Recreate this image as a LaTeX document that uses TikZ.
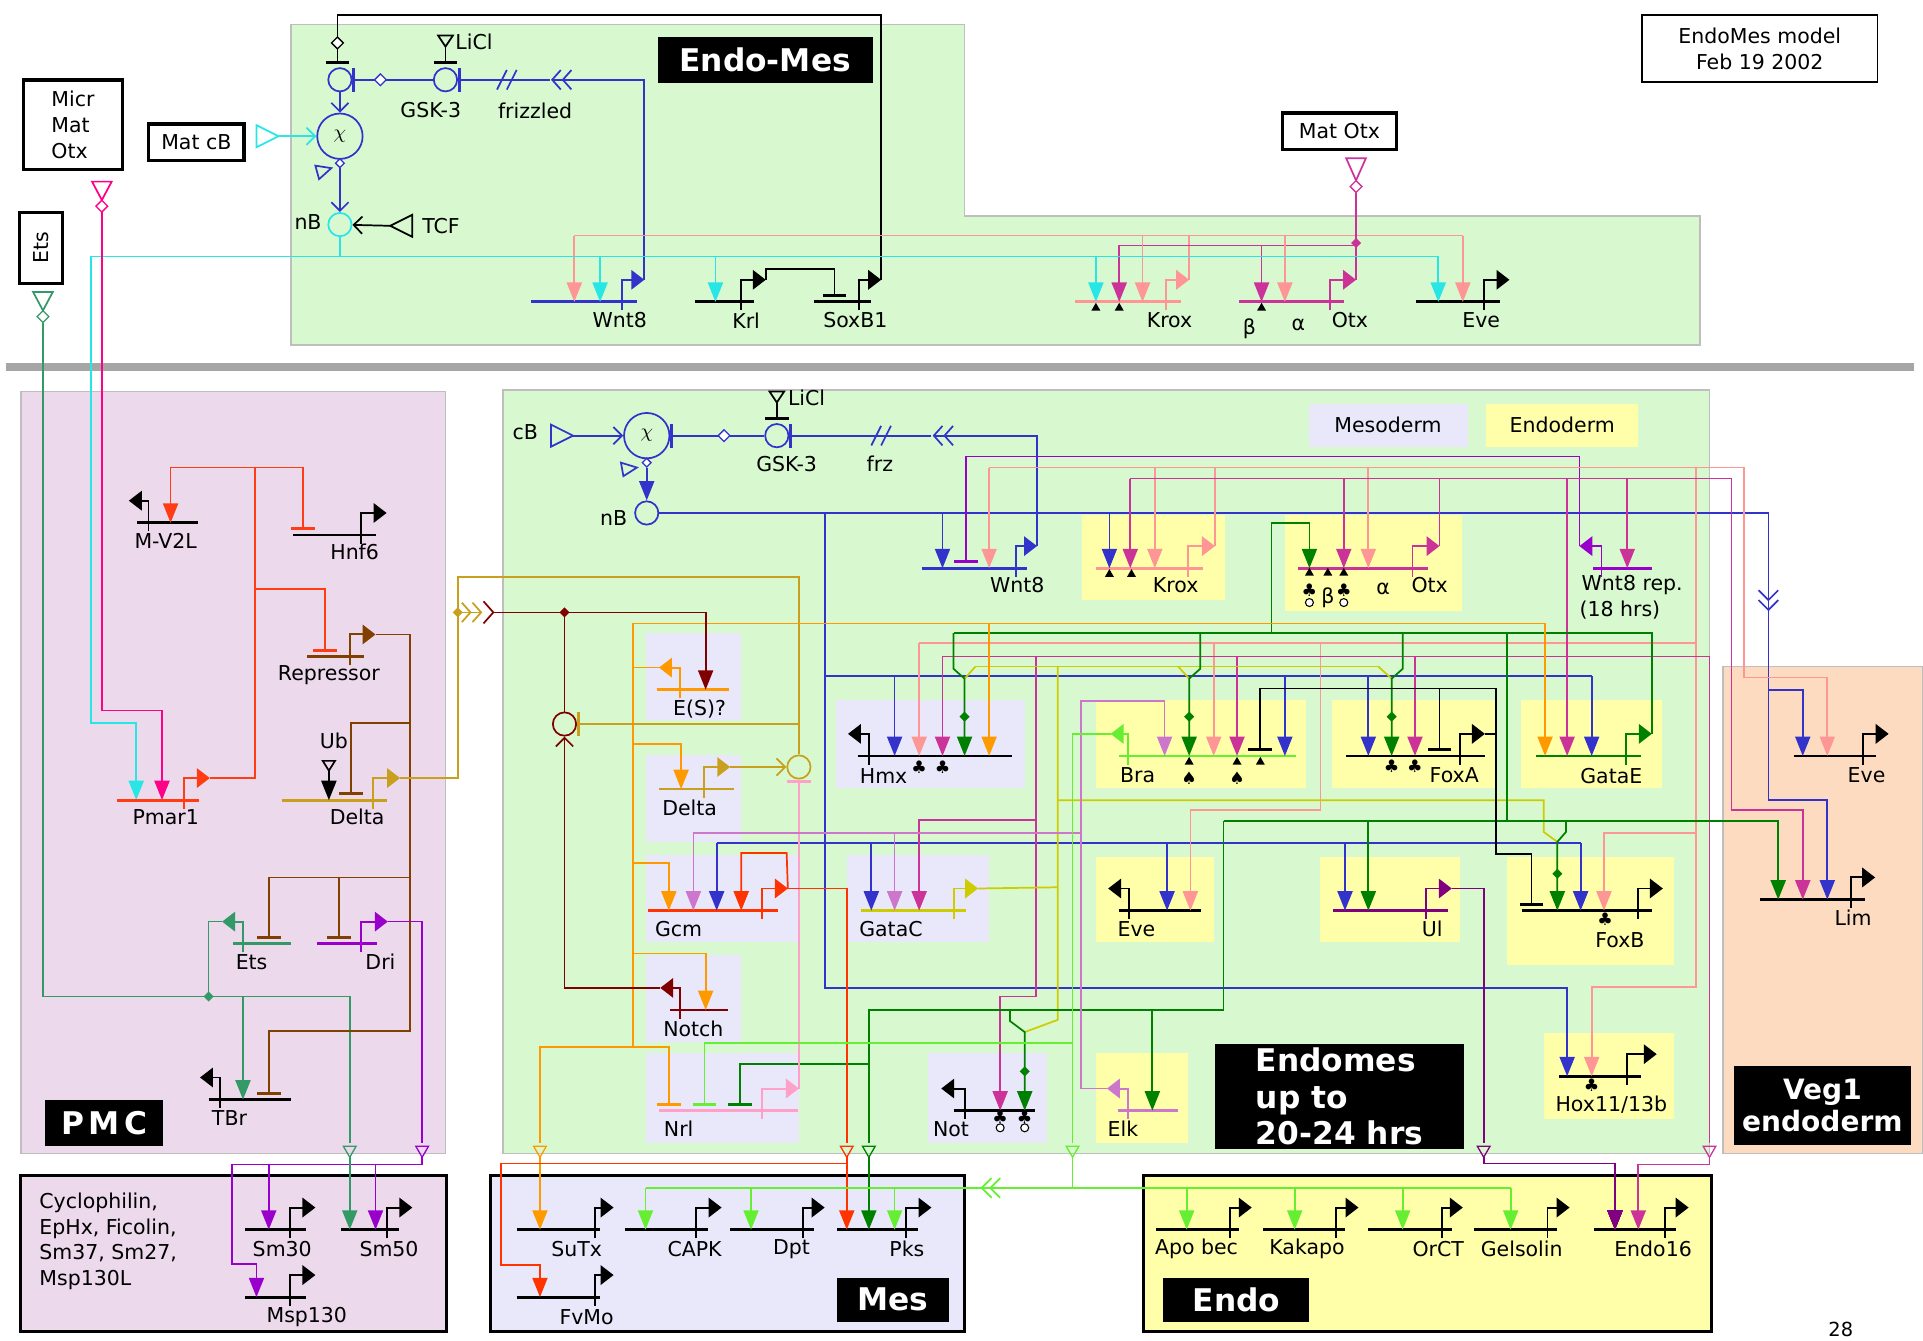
\documentclass[tikz,border=0pt]{standalone}
\usepackage{fontspec}
\setmainfont{DejaVu Sans}
\usetikzlibrary{arrows.meta,shapes.geometric}

\definecolor{greenbg}{RGB}{216,249,208}
\definecolor{pmcbg}{RGB}{236,217,236}
\definecolor{vegbg}{RGB}{253,219,192}
\definecolor{mesobg}{RGB}{232,232,250}
\definecolor{endobg}{RGB}{255,255,170}
\definecolor{regline}{RGB}{190,190,190}
\definecolor{cyanw}{RGB}{40,230,230}
\definecolor{salw}{RGB}{255,150,150}
\definecolor{magw}{RGB}{204,51,153}
\definecolor{bluw}{RGB}{51,51,204}
\definecolor{grnw}{RGB}{0,128,0}
\definecolor{lgrw}{RGB}{102,238,51}
\definecolor{yelw}{RGB}{204,204,0}
\definecolor{orgw}{RGB}{255,153,0}
\definecolor{redw}{RGB}{255,51,0}
\definecolor{orcw}{RGB}{204,119,204}
\definecolor{purw}{RGB}{153,0,204}
\definecolor{ulw}{RGB}{128,0,128}
\definecolor{drdw}{RGB}{128,0,0}
\definecolor{goldw}{RGB}{200,160,30}
\definecolor{pnkw}{RGB}{255,0,136}
\definecolor{pnkw2}{RGB}{255,160,200}
\definecolor{brnw}{RGB}{128,64,0}
\definecolor{etsw}{RGB}{51,153,102}
\definecolor{driw}{RGB}{153,0,204}
\definecolor{pmrw}{RGB}{255,60,20}

\newcommand{\lblfont}{\fontsize{9.5}{12}\selectfont}
\newcommand{\capfont}{\fontsize{14.5}{17}\selectfont\bfseries}

% gene: name, colour, x1, x2, y, bend x, tip x, label at, label
\newcommand{\gene}[9]{%
  \draw[promo,#2] (#3,#5) -- (#4,#5);
  \draw[bent,#2] (#6,#5+7) -- (#6,#5-18) -- (#7,#5-18);
  \coordinate (#1) at (#7,#5-18);
  \node[lbl] (#1-lbl) at (#8) {#9};}
\newcommand{\inp}[4]{\draw[wire,inarr,#1] (#2,#3) -- (#2,#4);}

\tikzset{
  wire/.style={line width=0.8pt},
  promo/.style={line width=1.3pt},
  bent/.style={line width=0.9pt,-{Triangle[length=6pt,width=9pt]}},
  inarr/.style={-{Triangle[length=9pt,width=7pt]}},
  reparr/.style={-{Bar[width=11pt,line width=1.4pt]}},
  openarr/.style={-{Straight Barb[length=4pt,width=8pt]}},
  dblbarb/.style={-{Straight Barb[length=4pt,width=9pt]Straight Barb[length=4pt,width=9pt]}},
  lbl/.style={font=\lblfont,inner sep=1pt},
  sig/.style={circle,draw,line width=0.8pt,minimum size=0.38cm,inner sep=0pt},
  port/.style={regular polygon,regular polygon sides=3,shape border rotate=180,draw,line width=0.6pt,minimum size=0.24cm,inner sep=0pt},
  jn/.style={diamond,fill,minimum size=0.17cm,inner sep=0pt},
  odm/.style={diamond,draw,line width=0.6pt,fill=white,minimum size=0.2cm,inner sep=0pt},
  tri/.style={regular polygon,regular polygon sides=3,fill=black,minimum size=0.17cm,inner sep=0pt},
  clb/.style={font=\fontsize{8}{8}\selectfont,inner sep=0pt},
  ocl/.style={circle,draw=black,fill=white,line width=0.5pt,minimum size=0.13cm,inner sep=0pt},
  capbox/.style={fill=black,text=white,font=\capfont,align=center,inner sep=0pt},
  inbox/.style={draw,line width=1.6pt,fill=white,font=\lblfont,inner sep=0pt},
}

\begin{document}
\begin{tikzpicture}[x=0.02cm,y=-0.02cm]
\useasboundingbox (0,0) rectangle (1567,1092);

% regions
\path[fill=greenbg,draw=regline,line width=0.8pt] (237,20) -- (786,20) -- (786,176) -- (1385,176) -- (1385,281) -- (237,281) -- cycle;
\path[fill=greenbg,draw=regline,line width=0.8pt] (410,318) rectangle (1393,940);
\path[fill=pmcbg,draw=regline,line width=0.8pt] (17,319) rectangle (363,940);
\path[fill=vegbg,draw=regline,line width=0.8pt] (1404,543) rectangle (1567,940);
\draw[black!35,line width=0.12cm] (5,299) -- (1560,299);

\foreach \a/\b/\c/\d in {526/516/604/587,526/615/604/686,526/697/650/768,526/778/604/849,526/858/651/931,681/570/835/642,690/697/806/768,756/858/853/931,1067/329/1196/364}
  \fill[mesobg] (\a,\b) rectangle (\c,\d);
\foreach \a/\b/\c/\d in {882/420/998/489,1047/420/1191/498,893/570/1064/642,1085/570/1220/642,1239/570/1354/642,893/698/989/768,1076/698/1190/768,1228/698/1364/786,893/858/968/931,1258/842/1364/912,1211/329/1335/364}
  \fill[endobg] (\a,\b) rectangle (\c,\d);
\node[lbl] at (1131,346) {Mesoderm};
\node[lbl] at (1273,346) {Endoderm};

\draw[line width=1.4pt,fill=pmcbg] (17,958) rectangle (364,1085);
\draw[line width=1.4pt,fill=mesobg] (400,958) rectangle (786,1085);
\draw[line width=1.4pt,fill=endobg] (932,958) rectangle (1395,1085);

% labels and input boxes
\node[capbox,minimum width=3.5cm,minimum height=0.76cm] (emtitle) at (623.5,49) {Endo-Mes};
\node[draw,line width=0.8pt,fill=white,minimum width=3.84cm,minimum height=1.1cm,align=center,font=\lblfont] (model) at (1434,39.5) {EndoMes model\\Feb 19 2002};
\node[inbox,minimum width=1.56cm,minimum height=0.6cm] (matcb) at (160,116) {Mat cB};
\node[inbox,minimum width=1.62cm,minimum height=1.46cm,align=left] (micr) at (59.5,101.5) {Micr\\Mat\\Otx};
\node[inbox,rotate=90,minimum width=1.16cm,minimum height=0.7cm] (etsbox) at (33.5,202) {Ets};
\node[inbox,minimum width=1.86cm,minimum height=0.6cm] (matotx) at (1091.5,107) {Mat Otx};
\node[capbox,minimum width=1.92cm,minimum height=0.76cm] (pmctitle) at (85,915) {P\kern2pt M\kern2pt C};
\node[capbox,minimum width=4.06cm,minimum height=1.7cm,align=left] (emlate) at (1091.5,893.5) {Endomes\\up to\\20-24 hrs};
\node[capbox,minimum width=2.88cm,minimum height=1.28cm,font=\fontsize{13}{15}\selectfont\bfseries] (vegtitle) at (1485,901) {Veg1\\endoderm};
\node[capbox,minimum width=1.82cm,minimum height=0.72cm] (mestitle) at (727.5,1059) {Mes};
\node[capbox,minimum width=2.38cm,minimum height=0.72cm] (endotitle) at (1007.5,1059) {Endo};
\node[font=\fontsize{9}{10}\selectfont,inner sep=0pt] at (1500,1083) {28};

% signalling nodes
\node[sig,draw=bluw] (bcat) at (277,65) {};
\node[sig,draw=bluw] (gsk) at (363,65) {};
\node[sig,draw=bluw,minimum size=0.74cm,font=\lblfont] (chi) at (277,111) {$\chi$};
\node[sig,draw=cyanw] (nbt) at (277,183) {};
\node[sig,draw=bluw,minimum size=0.74cm,font=\lblfont] (chib) at (527,355) {$\chi$};
\node[sig,draw=bluw] (gskb) at (633,355) {};
\node[sig,draw=bluw] (nbb) at (527,418) {};
\node[sig,draw=drdw] (nrec) at (460,590) {};
\node[sig,draw=goldw] (drec) at (651,625) {};

% top genes
\gene{wnt8t}{bluw}{433}{519}{246}{507}{525}{505,261}{Wnt8}
\gene{krlt}{black}{566}{614}{246}{604}{624}{608,261}{Krl}
\gene{soxt}{black}{663}{710}{246}{700}{718}{697,261}{SoxB1}
\gene{kroxt}{salw}{876}{962}{246}{950}{969}{953,261}{Krox}
\gene{otxt}{magw}{1010}{1095}{246}{1084}{1105}{1100,261}{Otx}
\gene{evet}{black}{1154}{1222}{246}{1209}{1230}{1207,261}{Eve}
\node[lbl] at (1018,268) {β};
\node[lbl] at (1058,265) {α};

% top wiring
\draw[wire,black] (soxt) -- (718,12) -| (275,30);
\node[odm,draw=black] at (275,35) {};
\draw[wire,black,reparr] (275,40) -- (275,52);
\draw[wire,bluw,reparr] (gsk) -- (bcat);
\node[odm,draw=bluw] at (310,65) {};
\draw[wire,bluw,reparr] (448,65) -- (gsk);
\draw[wire,bluw] (405,73) -- (413,57) (413,73) -- (421,57);
\draw[wire,bluw,dblbarb] (wnt8t) |- (449,65);
\draw[wire,black] (357,29) -- (369,29) -- (363,38) -- cycle;
\draw[wire,black,reparr] (363,38) -- (363,52);
\node[lbl,anchor=west] at (369,34) {LiCl};
\node[lbl] at (351,90) {GSK-3};
\node[lbl] at (436,90) {frizzled};
\draw[wire,bluw,openarr] (bcat) -- (chi);
\draw[wire,cyanw] (209,102) -- (227,111) -- (209,120) -- cycle;
\draw[wire,cyanw,openarr] (227,111) -- (chi);
\node[odm,draw=bluw,minimum size=0.15cm] at (277,133) {};
\draw[wire,bluw] (257,135) -- (270,137) -- (260,146) -- cycle;
\draw[wire,bluw,openarr] (277,137) -- (nbt);
\node[lbl] at (251,181) {nB};
\draw[wire,black] (336,175) -- (336,193) -- (318,184) -- cycle;
\draw[wire,black,openarr] (318,184) -- (nbt);
\node[lbl,anchor=west] (tcf) at (342,184) {TCF};
\draw[wire,cyanw] (nbt) -- (277,209);
\draw[wire,black,reparr] (krlt) -- (624,219) -| (680,242);

\draw[wire,salw] (468,192) -- (1192,192);
\draw[wire,salw] (kroxt) -- (969,192);
\draw[wire,magw] (otxt) -- (1105,157);
\draw[wire,magw] (1097,129) -- (1113,129) -- (1105,147) -- cycle;
\node[odm,draw=magw] at (1105,152) {};
\draw[wire,magw] (1105,200) -- (912,200);
\node[jn,magw] at (1105,198) {};
\inp{salw}{468}{192}{246} \inp{salw}{931}{192}{246} \inp{salw}{1047}{192}{246} \inp{salw}{1192}{192}{246}
\inp{magw}{912}{200}{246} \inp{magw}{1028}{200}{246}
\draw[wire,cyanw,inarr] (1172,209) -- (74,209) |- (111,589) -- (111,652);
\inp{cyanw}{489}{209}{246} \inp{cyanw}{583}{209}{246} \inp{cyanw}{893}{209}{246} \inp{cyanw}{1172}{209}{246}

\draw[wire,pnkw] (75,148) -- (91,148) -- (83,163) -- cycle;
\node[odm,draw=pnkw] at (83,168) {};
\draw[wire,pnkw,inarr] (83,173) -- (83,579) -| (132,652);
\draw[wire,etsw] (27,238) -- (43,238) -- (35,253) -- cycle;
\node[odm,draw=etsw] at (35,258) {};
\draw[wire,etsw] (35,263) -- (35,812) -- (285,812) -- (285,931);

% PMC genes
\gene{mv2l}{black}{112}{161}{426}{121}{105}{135,441}{M-V2L}
\gene{hnf6}{black}{239}{306}{436}{294}{315}{289,450}{Hnf6}
\gene{repr}{brnw}{250}{297}{535}{285}{306}{268,550}{Repressor}
\gene{pmar}{pmrw}{95}{162}{652}{150}{171}{135,666}{Pmar1}
\gene{deltap}{goldw}{230}{315}{652}{304}{326}{291,666}{Delta}
\gene{ets}{etsw}{190}{237}{769}{198}{181}{205,784}{Ets}
\gene{dri}{driw}{258}{307}{769}{294}{316}{310,784}{Dri}
\gene{tbr}{black}{170}{237}{896}{179}{163}{187,911}{TBr}

\draw[wire,pmrw,inarr] (pmar) -| (208,381) -| (139,426);
\draw[wire,pmrw,reparr] (208,381) -| (247,432);
\draw[wire,pmrw,reparr] (208,480) -| (265,531);
\draw[wire,brnw,reparr] (repr) -| (334,840) -| (219,892);
\draw[wire,brnw,reparr] (334,715) -| (219,765);
\draw[wire,brnw,reparr] (276,715) -- (276,765);
\draw[wire,brnw,reparr] (334,589) -| (286,648);
\draw[wire,black] (263,620) -- (273,620) -- (268,628) -- cycle;
\draw[wire,black,inarr] (268,628) -- (268,652);
\node[lbl] at (272,604) {Ub};
\draw[wire,etsw] (ets) -| (170,812);
\node[jn,etsw] at (170,812) {};
\draw[wire,etsw,inarr] (198,812) -- (198,896);
\draw[wire,driw] (dri) -| (344,931);
\draw[wire,goldw] (deltap) -| (373,470) -| (drec);

% lower signalling
\node[lbl] at (428,352) {cB};
\draw[wire,bluw] (449,346) -- (467,355) -- (449,364) -- cycle;
\draw[wire,bluw,openarr] (467,355) -- (chib);
\draw[wire,bluw,reparr] (gskb) -- (chib);
\node[odm,draw=bluw] at (590,355) {};
\draw[wire,bluw,reparr] (759,355) -- (gskb);
\draw[wire,bluw] (710,363) -- (718,347) (718,363) -- (726,347);
\draw[wire,black] (627,319) -- (639,319) -- (633,328) -- cycle;
\draw[wire,black,reparr] (633,328) -- (633,342);
\node[lbl,anchor=west] at (640,324) {LiCl};
\node[lbl] at (641,378) {GSK-3};
\node[lbl] at (717,378) {frz};
\node[odm,draw=bluw,minimum size=0.15cm] at (527,377) {};
\draw[wire,bluw] (506,377) -- (519,381) -- (508,388) -- cycle;
\draw[wire,bluw,inarr] (527,381) -- (nbb);
\node[lbl] at (500,422) {nB};

% lower genes
\gene{wnt8b}{bluw}{751}{837}{463}{828}{845}{829,477}{Wnt8}
\gene{kroxb}{salw}{893}{980}{463}{968}{990}{958,477}{Krox}
\gene{otxb}{magw}{1058}{1164}{463}{1151}{1173}{1165,477}{Otx}
\gene{wrep}{purw}{1298}{1346}{463}{1305}{1287}{1330,477}{Wnt8 rep.}
\node[lbl] at (1320,497) {(18 hrs)};
\gene{hmx}{black}{699}{825}{616}{708}{691}{720,632}{Hmx}
\gene{bra}{lgrw}{912}{1056}{616}{919}{905}{927,632}{Bra}
\gene{foxa}{black}{1097}{1210}{616}{1190}{1210}{1185,632}{FoxA}
\gene{gatae}{grnw}{1252}{1337}{616}{1325}{1346}{1313,632}{GataE}
\gene{evev}{black}{1462}{1529}{616}{1518}{1539}{1521,632}{Eve}
\gene{lim}{black}{1434}{1520}{733}{1508}{1528}{1510,748}{Lim}
\gene{esp}{orgw}{535}{594}{562}{554}{537}{570,578}{E(S)?}
\gene{deltam}{goldw}{537}{598}{643}{574}{595}{562,658}{Delta}
\gene{gcm}{redw}{528}{634}{742}{621}{642}{553,757}{Gcm}
\gene{gatac}{yelw}{702}{787}{742}{777}{797}{726,757}{GataC}
\gene{eveb}{black}{912}{979}{742}{920}{903}{926,757}{Eve}
\gene{ul}{ulw}{1086}{1180}{742}{1162}{1183}{1167,757}{Ul}
\gene{foxb}{black}{1240}{1346}{742}{1335}{1355}{1320,766}{FoxB}
\gene{notch}{drdw}{546}{593}{823}{554}{538}{565,838}{Notch}
\gene{nrl}{pnkw2}{537}{650}{905}{621}{651}{553,920}{Nrl}
\gene{not}{black}{777}{843}{905}{786}{767}{775,920}{Not}
\gene{elk}{orcw}{911}{960}{905}{919}{902}{915,920}{Elk}
\gene{hox}{black}{1270}{1337}{877}{1326}{1350}{1313,900}{Hox11/13b}
\node[lbl] at (1082,487) {β};
\node[lbl] at (1127,480) {α};

% blue
\draw[wire,bluw,inarr] (nbb) -- (1441,418) -- (1441,652) -| (1489,733);
\draw[wire,bluw] (1433,481) -- (1441,489) -- (1449,481) (1433,489) -- (1441,497) -- (1449,489);
\draw[wire,bluw,inarr] (1441,562) -| (1469,616);
\draw[wire,bluw,inarr] (672,418) -- (672,805) -| (1277,877);
\draw[wire,bluw] (672,551) -- (1297,551);
\draw[wire,bluw] (584,687) -- (1288,687);
\inp{bluw}{768}{418}{463} \inp{bluw}{904}{418}{463}
\inp{bluw}{729}{551}{616} \inp{bluw}{1047}{551}{616} \inp{bluw}{1115}{551}{616} \inp{bluw}{1297}{551}{616}
\inp{bluw}{584}{687}{742} \inp{bluw}{710}{687}{742} \inp{bluw}{951}{687}{742} \inp{bluw}{1096}{687}{742} \inp{bluw}{1288}{687}{742}
\draw[wire,bluw,dblbarb] (wnt8b) |- (760,355);

% purple
\draw[wire,purw,reparr] (wrep) |- (787,372) -- (787,459);

% salmon
\draw[wire,salw] (kroxb) |- (806,381);
\draw[wire,salw,inarr] (990,381) -- (1421,381) -- (1421,552) -| (1489,616);
\inp{salw}{806}{381}{463} \inp{salw}{941}{381}{463} \inp{salw}{1115}{381}{463}
\draw[wire,salw,inarr] (1382,381) -- (1382,804) -| (1297,877);
\draw[wire,salw] (1382,524) -- (749,524);
\inp{salw}{749}{524}{616} \inp{salw}{989}{524}{616}
\draw[wire,salw,inarr] (1382,679) -| (1307,742);
\draw[wire,salw,inarr] (1076,524) -- (1076,660) -| (970,742);

% magenta
\draw[wire,magw] (otxb) -- (1173,390);
\draw[wire,magw,inarr] (921,390) -- (1411,390) -- (1411,660) -| (1469,733);
\inp{magw}{921}{390}{463} \inp{magw}{1095}{390}{463} \inp{magw}{1277}{390}{616} \inp{magw}{1326}{390}{463}
\draw[wire,magw] (768,535) -- (1393,535) -- (1393,931);
\inp{magw}{768}{535}{616} \inp{magw}{1008}{535}{616} \inp{magw}{1153}{535}{616}
\draw[wire,magw,inarr] (844,535) -- (844,812) -| (815,905);
\draw[wire,magw,inarr] (844,668) -| (749,742);

% green and yellow
\draw[wire,yelw] (gatac) -- (862,723);
\draw[wire,yelw] (862,543) -- (862,831) -- (835,841);
\draw[wire,yelw] (795,543) -- (1123,543);
\draw[wire,yelw] (862,652) -- (1258,652) -- (1258,678) -- (1269,686);
\draw[wire,yelw] (795,543) -- (786,553);
\draw[wire,yelw] (960,543) -- (969,553);
\draw[wire,yelw] (1123,543) -- (1134,553);
\draw[wire,grnw] (gatae) -- (1346,516) -- (777,516);
\draw[wire,grnw,inarr] (1036,516) -- (1036,426) -| (1067,463);
\draw[wire,grnw,inarr] (777,516) -- (777,545) -- (786,553) -- (786,616);
\draw[wire,grnw,inarr] (978,516) -- (978,545) -- (969,553) -- (969,616);
\draw[wire,grnw,inarr] (1143,516) -- (1143,545) -- (1134,553) -- (1134,616);
\draw[wire,grnw] (1228,516) -- (1228,669);
\draw[wire,grnw,inarr] (997,669) -| (1449,733);
\inp{grnw}{1115}{669}{742}
\draw[wire,grnw,inarr] (1276,669) -- (1276,678) -- (1269,686) -- (1269,742);
\draw[wire,grnw] (997,669) -- (997,823) -- (708,823) -- (708,931);
\inp{grnw}{939}{823}{905}
\draw[wire,grnw,reparr] (708,867) -| (603,901);
\draw[wire,grnw,inarr] (823,823) -- (823,832) -- (835,841) -- (835,905);
\foreach \x/\y in {786/584,969/584,1134/584,1269/712,835/873} \node[jn,grnw] at (\x,\y) {};

% orange
\draw[wire,orgw] (esp) -- (516,544);
\draw[wire,orgw] (1259,508) -- (516,508) -- (516,853) -- (440,853) -- (440,931);
\inp{orgw}{806}{508}{616} \inp{orgw}{1259}{508}{616}
\draw[wire,orgw,inarr] (516,606) -| (555,643);
\draw[wire,orgw,inarr] (516,703) -| (545,742);
\draw[wire,orgw,inarr] (516,777) -| (575,823);
\draw[wire,orgw,reparr] (516,853) -| (545,901);

% notch and delta
\draw[wire,goldw,dblbarb] (373,499) -- (393,499);
\node[jn,goldw] at (373,499) {};
\draw[wire,drdw] (394,490) -- (402,499) -- (394,508);
\draw[wire,drdw,inarr] (402,499) -- (575,499) -- (575,562);
\node[jn,drdw] at (460,499) {};
\draw[wire,drdw] (460,499) -- (nrec);
\draw[wire,drdw,openarr] (notch) -| (nrec);
\draw[wire,goldw,reparr] (651,590) -- (nrec);
\draw[wire,goldw,openarr] (deltam) -- (drec);
\draw[wire,pnkw2,reparr] (nrl) -- (drec);

% red
\draw[wire,redw,inarr] (gcm) -- (641,695) -| (604,742);
\draw[wire,redw] (gcm) -| (690,931);

% orchid
\draw[wire,orcw,inarr] (elk) -| (881,571) -| (949,616);
\draw[wire,orcw] (881,679) -- (565,679);
\inp{orcw}{565}{679}{742} \inp{orcw}{729}{679}{742}

% light green
\draw[wire,lgrw] (bra) -| (874,931);
\draw[wire,lgrw,reparr] (874,850) -| (574,901);

% Ul
\draw[wire,ulw] (ul) -| (1209,931);

% black
\draw[wire,black] (foxa) -- (1219,598);
\draw[wire,black,reparr] (1219,561) -- (1219,696) -| (1248,738);
\draw[wire,black,reparr] (1219,561) -| (1027,612);
\draw[wire,black,reparr] (1173,561) -- (1173,612);

% ports
\foreach \x/\c in {285/etsw,344/driw,440/orgw,690/redw,708/grnw,874/lgrw,1209/ulw,1393/magw}
  \node[port,draw=\c] at (\x,937) {};

% markers
\foreach \x/\y in {893/251,912/251,1028/251,904/468,922/468,1067/467,1082/467,1095/467,969/621,1008/621,1027/621}
  \node[tri] at (\x,\y) {};
\foreach \x/\y in {749/625,768/625,1134/624,1153/624,1308/749,1297/884,1067/481,1095/481,815/910,835/910}
  \node[clb] at (\x,\y) {♣};
\foreach \x/\y in {969/634,1008/634}
  \node[clb] at (\x,\y) {♠};
\foreach \x/\y in {1067/491,1095/491,815/919,835/919}
  \node[ocl] at (\x,\y) {};

% bottom genes
\gene{sm30}{black}{200}{249}{1002}{236}{257}{230,1018}{Sm30}
\gene{sm50}{black}{278}{325}{1002}{315}{336}{317,1018}{Sm50}
\gene{msp}{black}{200}{249}{1057}{236}{257}{250,1073}{Msp130}
\gene{sutx}{black}{421}{489}{1002}{485}{500}{470,1018}{SuTx}
\gene{capk}{black}{509}{577}{1002}{567}{588}{566,1018}{CAPK}
\gene{dpt}{black}{595}{663}{1002}{654}{672}{645,1018}{Dpt}
\gene{pks}{black}{682}{748}{1002}{738}{759}{739,1018}{Pks}
\gene{fvmo}{black}{421}{489}{1057}{485}{500}{478,1073}{FvMo}
\gene{apo}{black}{942}{1010}{1002}{1002}{1020}{975,1018}{Apo bec}
\gene{kak}{black}{1029}{1096}{1002}{1089}{1107}{1065,1018}{Kakapo}
\gene{orct}{black}{1115}{1183}{1002}{1175}{1192}{1172,1018}{OrCT}
\gene{gel}{black}{1201}{1269}{1002}{1261}{1279}{1240,1018}{Gelsolin}
\gene{endo}{black}{1299}{1366}{1002}{1357}{1376}{1347,1018}{Endo16}
\node[lbl,align=left,anchor=north west,font=\fontsize{9.5}{11.9}\selectfont] at (30,970) {Cyclophilin,\\EpHx, Ficolin,\\Sm37, Sm27,\\Msp130L};

\draw[wire,driw,inarr] (344,943) -- (344,949) -| (189,1030) -| (209,1057);
\inp{driw}{219}{949}{1002} \inp{driw}{306}{949}{1002}
\inp{etsw}{285}{943}{1002}
\inp{orgw}{440}{943}{1002}
\inp{redw}{690}{943}{1002}
\draw[wire,redw,inarr] (690,948) -| (408,1031) -| (440,1057);
\inp{grnw}{708}{943}{1002}
\draw[wire,lgrw] (874,943) -- (874,968);
\draw[wire,lgrw] (526,968) -- (1231,968);
\draw[wire,lgrw] (808,960) -- (800,968) -- (808,976) (815,960) -- (807,968) -- (815,976);
\foreach \x in {526,612,729,967,1055,1143,1231} \inp{lgrw}{\x}{968}{1002}
\draw[wire,ulw,inarr] (1209,943) -- (1209,948) -| (1316,1002);
\draw[wire,magw,inarr] (1393,943) -- (1393,949) -| (1335,1002);
\end{tikzpicture}
\end{document}
